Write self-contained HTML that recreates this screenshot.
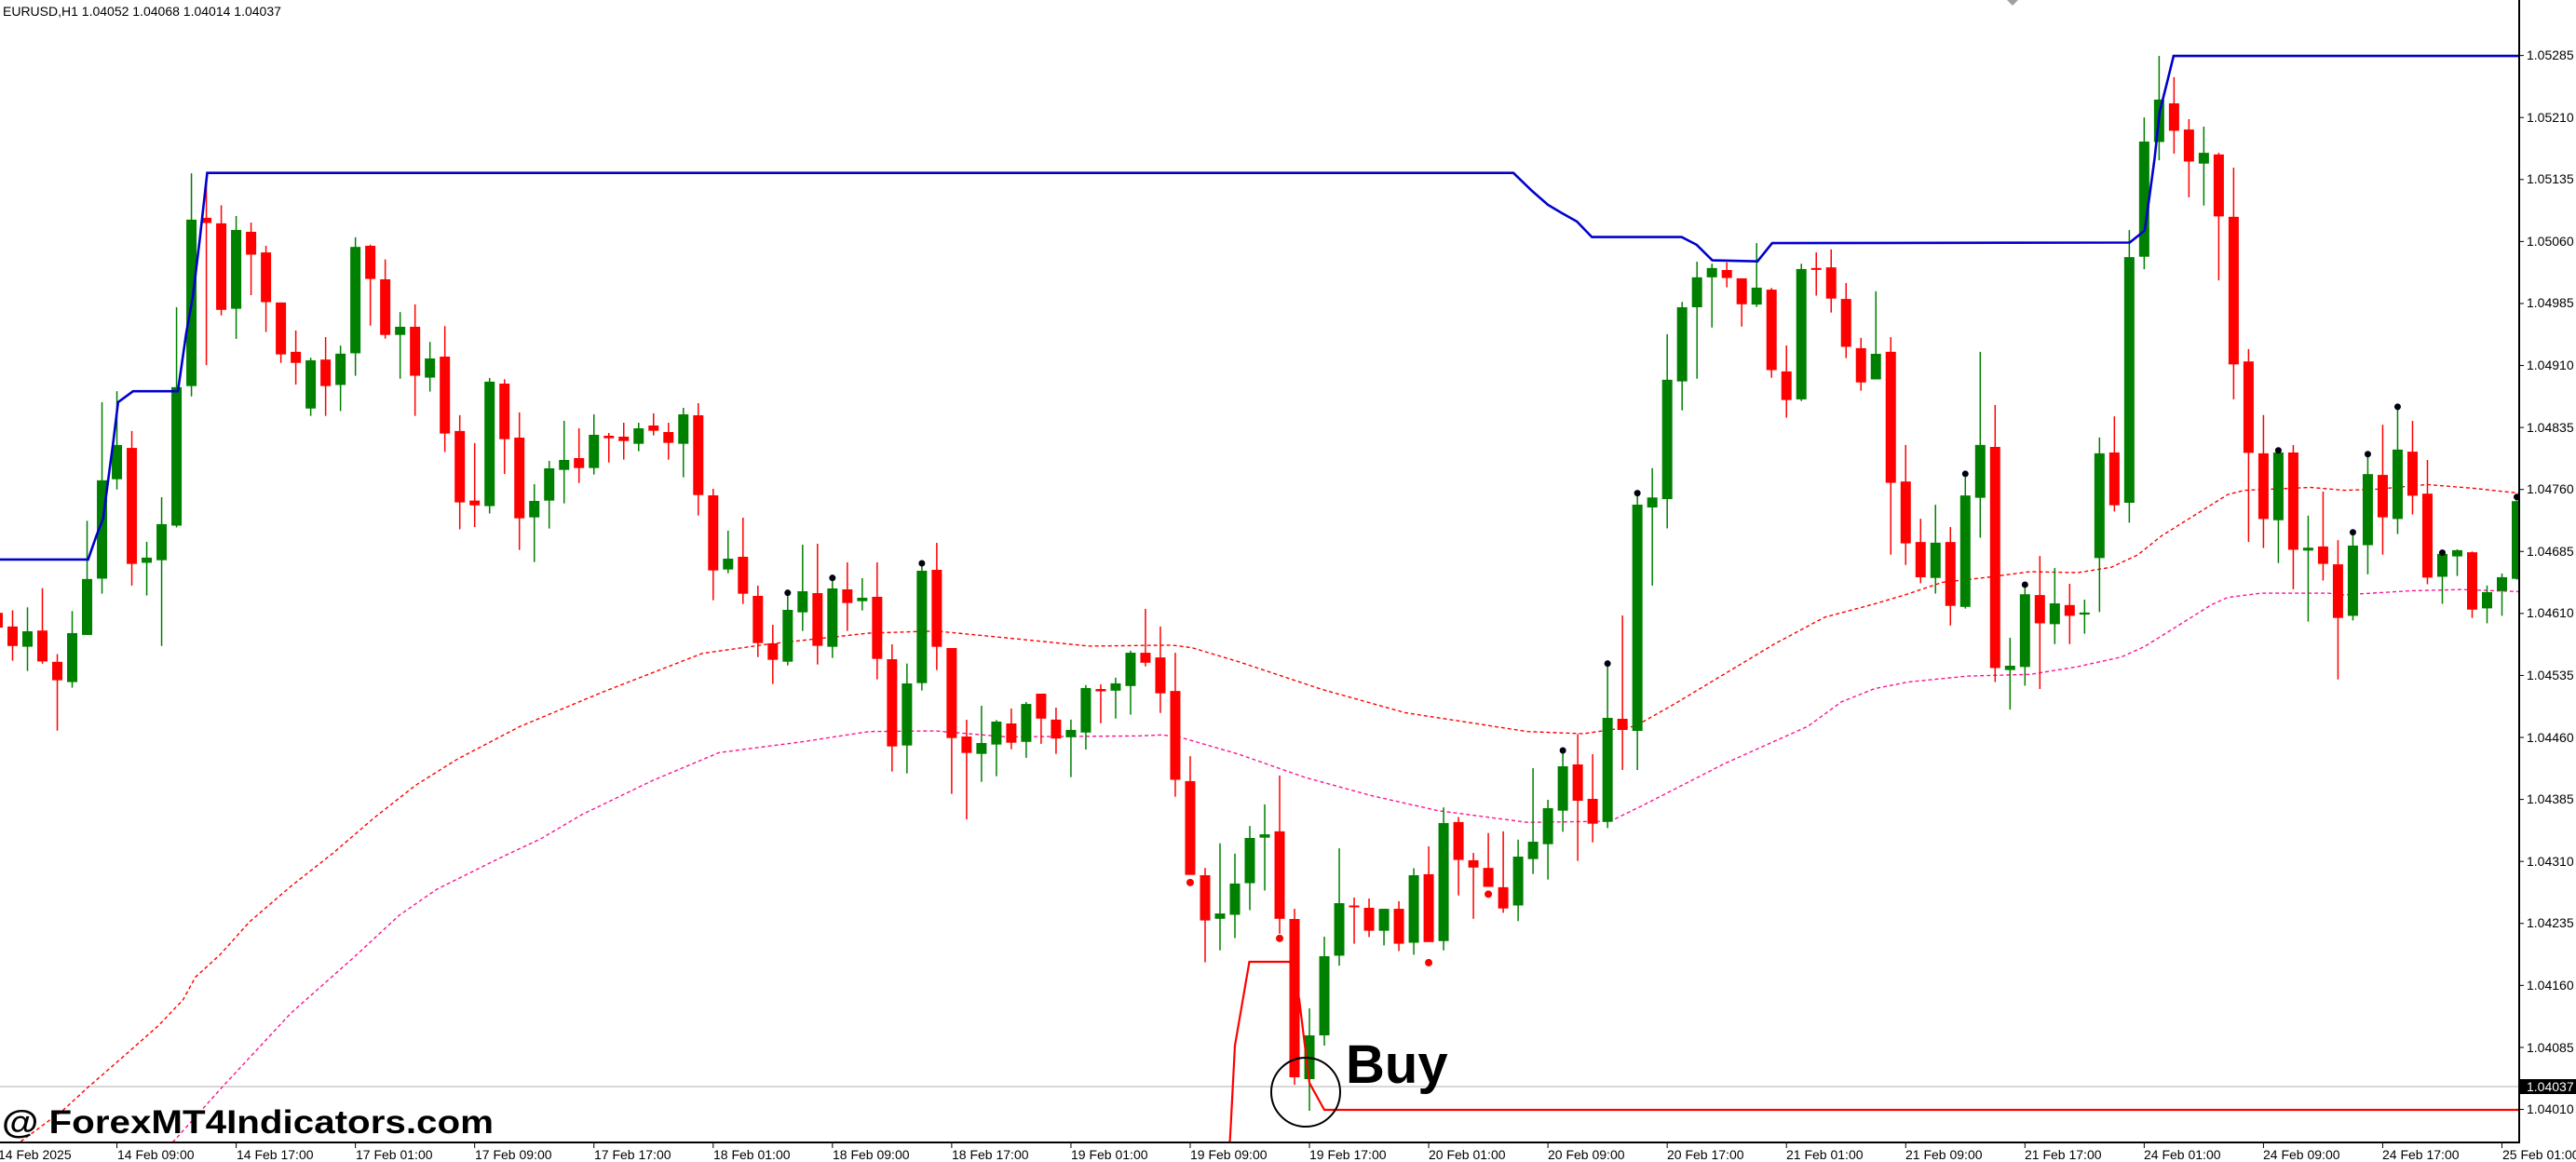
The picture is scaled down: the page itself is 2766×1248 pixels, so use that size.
<!DOCTYPE html>
<html><head><meta charset="utf-8">
<style>
html,body{margin:0;padding:0;background:#fff;overflow:hidden}
svg{display:block}
text{font-family:"Liberation Sans",Arial,sans-serif}
</style></head>
<body>
<svg id="c" xmlns="http://www.w3.org/2000/svg" width="2766" height="1248" viewBox="0 0 2766 1248">
<rect width="2766" height="1248" fill="#fff"/>
<defs><clipPath id="cp"><rect x="0" y="0" width="2705" height="1227"/></clipPath></defs>
<g id="plot" clip-path="url(#cp)"></g>
<polygon points="2155,0 2167,0 2161,6" fill="#a0a0a0"/>
<text x="3" y="17" font-size="14" fill="#000">EURUSD,H1  1.04052 1.04068 1.04014 1.04037</text>
<text x="2" y="1217" font-size="35" font-weight="bold" fill="#000" textLength="528" lengthAdjust="spacingAndGlyphs">@ ForexMT4Indicators.com</text>
<text x="1445" y="1163" font-size="58" font-weight="bold" fill="#000">Buy</text>
<circle cx="1402" cy="1173" r="37" fill="none" stroke="#000" stroke-width="2"/>
<line x1="2705" y1="0" x2="2705" y2="1228" stroke="#000" stroke-width="2"/>
<line x1="0" y1="1227" x2="2706" y2="1227" stroke="#000" stroke-width="2"/>
<g id="axis" font-size="14" fill="#000"></g>
<g font-size="14" fill="#000">
<text x="-2" y="1245">14 Feb 2025</text>
<text x="126" y="1245">14 Feb 09:00</text>
<text x="254" y="1245">14 Feb 17:00</text>
<text x="382" y="1245">17 Feb 01:00</text>
<text x="510" y="1245">17 Feb 09:00</text>
<text x="638" y="1245">17 Feb 17:00</text>
<text x="766" y="1245">18 Feb 01:00</text>
<text x="894" y="1245">18 Feb 09:00</text>
<text x="1022" y="1245">18 Feb 17:00</text>
<text x="1150" y="1245">19 Feb 01:00</text>
<text x="1278" y="1245">19 Feb 09:00</text>
<text x="1406" y="1245">19 Feb 17:00</text>
<text x="1534" y="1245">20 Feb 01:00</text>
<text x="1662" y="1245">20 Feb 09:00</text>
<text x="1790" y="1245">20 Feb 17:00</text>
<text x="1918" y="1245">21 Feb 01:00</text>
<text x="2046" y="1245">21 Feb 09:00</text>
<text x="2174" y="1245">21 Feb 17:00</text>
<text x="2302" y="1245">24 Feb 01:00</text>
<text x="2430" y="1245">24 Feb 09:00</text>
<text x="2558" y="1245">24 Feb 17:00</text>
<text x="2687" y="1245">25 Feb 01:00</text>
</g>
<g font-size="14" fill="#000">
<text x="2713" y="64">1.05285</text>
<text x="2713" y="131">1.05210</text>
<text x="2713" y="197">1.05135</text>
<text x="2713" y="264">1.05060</text>
<text x="2713" y="330">1.04985</text>
<text x="2713" y="397">1.04910</text>
<text x="2713" y="464">1.04835</text>
<text x="2713" y="530">1.04760</text>
<text x="2713" y="597">1.04685</text>
<text x="2713" y="663">1.04610</text>
<text x="2713" y="730">1.04535</text>
<text x="2713" y="797">1.04460</text>
<text x="2713" y="863">1.04385</text>
<text x="2713" y="930">1.04310</text>
<text x="2713" y="996">1.04235</text>
<text x="2713" y="1063">1.04160</text>
<text x="2713" y="1130">1.04085</text>
<text x="2713" y="1196">1.04010</text>
</g>
<rect x="2706" y="1159" width="60" height="16" fill="#000"/>
<text x="2713" y="1172" font-size="14" fill="#fff">1.04037</text>
</svg>
<script>
(function(){
var NS="http://www.w3.org/2000/svg";
var plot=document.getElementById('plot');
var axis=document.getElementById('axis');
function el(p,n,a){var e=document.createElementNS(NS,n);for(var k in a)e.setAttribute(k,a[k]);p.appendChild(e);return e;}
function X(k){return 13.5+16.006*k;}
// axis ticks
for(var n=0;n<18;n++){var y=1191.5-n*66.58;el(axis,'line',{x1:2705,y1:y,x2:2710,y2:y,stroke:'#000','stroke-width':1});}
for(var j=0;j<22;j++){var x=X(8*j-1);el(axis,'line',{x1:x,y1:1227,x2:x,y2:1233,stroke:'#000','stroke-width':1});}
// gray current price line
el(plot,'line',{x1:0,y1:1167,x2:2705,y2:1167,stroke:'#c0c0c0','stroke-width':1.2});
function poly(pts,attrs){attrs.points=pts.map(function(p){return p[0]+','+p[1]}).join(' ');attrs.fill='none';el(plot,'polyline',attrs);}
// dotted lines
poly([[22.3,1226],[67,1193],[93.8,1168.4],[134,1133.4],[169.6,1102],[196.4,1074],[209.8,1049.5],[236.6,1025],[267.9,990.1],[312.5,951.7],[357.1,916.7],[401.8,878.3],[446.4,843.3],[491.1,815.3],[558,780.4],[647.1,743.3],[754.3,701.7],[825.7,691.7],[932.9,680],[1004.3,677.7],[1080,685],[1169.3,693.9],[1258.6,692.9],[1280,695.7],[1330,710.7],[1419.3,740.4],[1508.6,765.4],[1640,785.7],[1700,788],[1755.7,780],[1798.6,755.7],[1852.1,723.6],[1905.7,691.4],[1959.3,662.9],[2012.9,648.6],[2048.6,637.9],[2085.7,625.4],[2134.3,620],[2180,614],[2231.4,615],[2267.1,609.2],[2295.7,595.8],[2320.7,575.7],[2356.4,553.4],[2392.1,531.1],[2410,526.6],[2481.4,523.5],[2517.1,526.6],[2552.9,525.3],[2606.4,520.4],[2660,524.8],[2705,529.7]],{stroke:'#ff0000','stroke-width':1.4,'stroke-dasharray':'4 3'});
poly([[185.3,1227],[241.1,1164.8],[312.5,1088],[379.5,1028.6],[428.6,983.1],[468.8,955.2],[535.7,922],[580.4,901],[625,874.8],[700.7,838.3],[772.1,808.3],[861.4,796.7],[932.9,785.7],[1004.3,785],[1080,791.4],[1222.9,790.4],[1247.9,789.3],[1265.7,791.4],[1330,810],[1401.4,835],[1472.9,854.6],[1544.3,870.7],[1640,883.2],[1729,882],[1764,865],[1852,820],[1941.4,780],[1977.1,753.9],[2012.9,739.6],[2048.6,732.5],[2112.9,726.1],[2180,724.3],[2231.4,715.9],[2277.9,705.6],[2302.9,694.3],[2338.6,672],[2374.3,649.6],[2392.1,641.6],[2427.9,637.1],[2499.3,637.1],[2517.1,638.9],[2588.6,634.5],[2642.1,633.2],[2705,635.4]],{stroke:'#ff1493','stroke-width':1.4,'stroke-dasharray':'4 3'});
// candles
var Z={4:[160,2.529],5:[380,3],6:[560,2.8],3:[950,3],10:[700,3],7:[220,2.8],8:[40,2.24],0:[0,1]};
var D=[
[4,[[-1,'r',1260,1300,1253,1310],[0,'r',1297,1350,1253,1390],[1,'g',1310,1352,1245,1418],[2,'r',1308,1392,1193,1398],[3,'r',1393,1443,1372,1580],[4,'g',1315,1448,1255,1463],[5,'g',1168,1320,1010,1320],[6,'g',900,1167,688,1208],[7,'g',804,897,658,925],[8,'r',812,1127,766,1186],[9,'g',1110,1124,1067,1213],[10,'g',1019,1117,946,1350],[11,'g',647,1023,430,1028],[12,'g',192,644,66,672],[13,'r',187,201,95,587],[14,'r',202,437,153,452],[15,'g',220,434,182,516],[16,'r',225,287,200,397],[17,'r',281,416,263,497],[18,'r',417,558,417,581],[19,'r',551,581,493,640],[20,'g',574,705,567,725],[21,'r',572,644,511,725],[22,'g',556,641,534,712],[23,'g',266,555,240,616],[24,'r',263,353,260,480],[25,'r',354,505,300,515],[26,'g',483,505,443,624],[27,'r',483,616,422,725],[28,'g',569,621,524,659],[29,'r',564,773,481,823],[30,'r',766,960,723,1033],[31,'r',955,968,799,1027],[32,'g',632,970,622,990]]],
[5,[[33,'r',96,275,82,387],[34,'r',270,530,189,632],[35,'g',474,527,420,671],[36,'g',369,473,345,563],[37,'g',342,374,216,482],[38,'r',336,368,240,416],[39,'g',261,368,195,389],[40,'r',264,272,255,350],[41,'r',267,281,222,341],[42,'g',240,290,222,314],[43,'r',231,248,192,263],[44,'r',252,287,222,341],[45,'g',195,290,174,398],[46,'r',198,455,159,521],[47,'r',456,698,435,794],[48,'g',660,695,570,707],[49,'r',654,773,528,806],[50,'r',780,932,747,977],[51,'r',933,986,873,1064],[52,'g',825,992,780,1004],[53,'g',765,833,615,893],[54,'r',771,941,612,1001],[55,'g',756,944,730,980],[56,'r',759,803,672,893],[57,'g',786,797,723,827],[58,'r',783,983,672,1049],[59,'r',984,1265,936,1346],[60,'g',1062,1262,998,1352],[61,'g',699,1061,680,1085],[62,'r',696,944,609,1019],[63,'r',948,1238,948,1418],[64,'r',1233,1286,1179,1500],[65,'g',1254,1289,1134,1379],[66,'g',1185,1259,1180,1361],[67,'r',1191,1253,1143,1274]]],
[6,[[68,'g',549,663,543,711],[69,'r',518,593,518,669],[70,'r',596,653,560,699],[71,'g',627,649,596,769],[72,'g',501,635,492,686],[73,'r',504,511,490,607],[74,'g',487,509,470,593],[75,'g',395,495,389,581],[76,'r',395,425,263,436],[77,'r',409,517,316,576],[78,'r',510,777,395,828],[79,'r',781,1063,706,1063],[80,'r',1064,1200,1042,1326],[81,'g',1179,1195,968,1290],[82,'g',1089,1183,999,1253],[83,'g',952,1088,916,1169],[84,'g',941,951,851,1110],[85,'r',932,1195,764,1240],[89,'g',1148,1306,983,1336],[90,'r',1155,1159,1131,1270],[91,'r',1162,1231,1134,1250],[92,'g',1165,1231,1165,1275],[93,'r',1165,1270,1142,1292],[94,'g',1064,1267,1043,1303],[95,'r',1061,1265,977,1265],[96,'g',907,1262,860,1290],[97,'r',904,1018,889,1125],[98,'r',1019,1041,997,1195],[99,'r',1042,1099,937,1099],[100,'r',1100,1164,932,1177],[101,'g',1008,1155,957,1202]]],
[0,[[86,'r',987,1157,976,1165],[87,'g',1112,1159,1083,1193],[88,'g',1027,1112,1006,1123],[108,'r',772,784,661,827],[109,'g',542,785,532,827]]],
[10,[[102,'g',612,668,375,716],[103,'g',504,620,477,734],[104,'g',369,512,325,580],[105,'r',363,480,265,674],[106,'r',474,554,330,614],[107,'g',213,548,40,568]]],
[7,[[110,'g',880,910,792,1145],[111,'g',526,885,389,973],[112,'g',308,531,292,618],[113,'g',218,308,171,523],[114,'g',190,218,177,369],[115,'r',196,220,173,248],[116,'r',221,299,221,366],[117,'g',249,300,115,307],[118,'r',255,497,250,520],[119,'r',501,587,423,640],[120,'g',193,585,177,590],[121,'r',190,195,143,273],[122,'r',188,282,134,324],[123,'r',283,427,235,461],[124,'r',431,534,400,559],[125,'g',448,525,260,525],[126,'r',442,836,398,1052],[127,'r',832,1018,722,1083],[128,'r',1014,1120,944,1138],[129,'g',1016,1122,902,1169],[130,'r',1014,1206,969,1265],[131,'g',874,1209,819,1214],[132,'g',722,881,442,1001],[133,'r',728,1393,602,1435],[134,'g',1386,1399,1302,1518]]],
[8,[[135,'g',1340,1515,1325,1560],[136,'r',1342,1410,1248,1568],[137,'g',1362,1412,1277,1460],[138,'r',1366,1392,1315,1460],[139,'g',1384,1389,1353,1435],[140,'g',1001,1253,963,1383],[141,'r',999,1126,912,1141],[142,'g',529,1120,464,1168],[143,'g',251,528,193,558],[144,'g',150,252,45,296],[145,'r',159,225,96,280],[146,'r',222,299,197,385],[147,'g',278,304,215,405],[148,'r',282,431,278,585],[149,'r',432,787,314,871],[150,'r',780,1000,750,1214],[151,'r',1001,1159,909,1229],[152,'g',999,1162,994,1265],[153,'r',999,1233,981,1328],[154,'g',1228,1235,1151,1406],[155,'r',1225,1267,1093,1307],[156,'r',1268,1397,1210,1545],[157,'g',1223,1392,1197,1403],[158,'g',1051,1222,1010,1292],[159,'r',1053,1155,932,1245],[160,'g',992,1159,889,1195],[161,'r',997,1103,923,1148],[162,'r',1098,1300,1017,1316],[163,'g',1243,1298,1240,1363],[164,'g',1234,1249,1232,1296],[165,'r',1239,1377,1237,1397],[166,'g',1335,1374,1319,1410],[167,'g',1299,1332,1290,1392],[168,'g',1116,1303,1106,1305]]]
];
D.forEach(function(g){var z=Z[g[0]];g[1].forEach(function(c){
 var x=X(c[0]),f=function(v){return z[0]+v/z[1];};
 var col=c[1]=='g'?'#008000':'#ff0000';
 var bt=f(c[2]),bb=f(c[3]),wt=f(c[4]),wb=f(c[5]);
 el(plot,'line',{x1:x,y1:wt,x2:x,y2:wb,stroke:col,'stroke-width':1.5});
 el(plot,'rect',{x:x-5.5,y:bt,width:11,height:Math.max(bb-bt,2),fill:col});
});});
// dots
var B=[[52,5,770],[55,5,722],[61,5,675],[104,10,318],[107,10,38],[109,7,867],[131,7,809],[135,8,1317],[152,8,994],[157,8,1191],[158,8,1003],[160,8,889],[163,8,1240],[168,8,1106]];
B.forEach(function(d){var z=Z[d[1]];el(plot,'circle',{cx:X(d[0]),cy:z[0]+d[2]/z[1],r:3.5,fill:'#000010'});});
var R=[[79,6,1086],[85,6,1254],[95,6,1327],[99,6,1121]];
R.forEach(function(d){var z=Z[d[1]];el(plot,'circle',{cx:X(d[0]),cy:z[0]+d[2]/z[1],r:4,fill:'#ff0000'});});
// blue line
poly([[0,600.9],[94.6,600.9],[103.6,575.2],[110.7,557.4],[116.1,515.9],[121.4,476.3],[126.8,432],[142.9,420.2],[191,420.2],[200,357.7],[207.1,318.2],[214.3,258.9],[219.6,211.4],[222.5,185.7],[1625,185.7],[1645,205],[1662.1,220],[1677.1,228.9],[1693.2,237.9],[1709.3,254.6],[1805.7,254.6],[1821.8,262.9],[1838.6,279.6],[1887.1,280.7],[1902.9,261.1],[2286.8,260.5],[2302.9,247.6],[2308.2,209.6],[2313.6,169.5],[2318.9,120.4],[2327.9,84.6],[2333.9,60.1],[2705,60.1]],{stroke:'#0000cd','stroke-width':2.6});
// red stop line
poly([[1320.5,1227],[1321.5,1210],[1326,1123],[1341.5,1033],[1385,1033],[1395,1073],[1406,1163],[1422,1192],[2705,1192]],{stroke:'#ff0000','stroke-width':2.2});
})();
</script>
</body></html>
